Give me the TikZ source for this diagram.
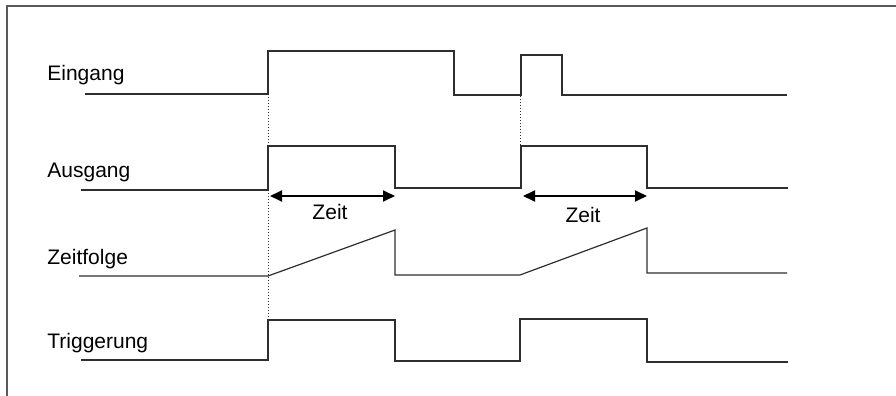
\documentclass[tikz,border=0pt]{standalone}
\usepackage{fontspec}
\setmainfont{Liberation Sans}
\usetikzlibrary{arrows.meta}
\definecolor{signal}{HTML}{2E2E2E}
\definecolor{frameline}{HTML}{5A5A5A}
\tikzset{
  sig/.style={line width=0.6pt, draw=signal},
  guide/.style={densely dotted, line width=0.5pt, draw=signal},
  spanarr/.style={{Triangle[length=6pt,width=5.5pt]}-{Triangle[length=6pt,width=5.5pt]},
    line width=0.9pt, draw=black},
  lab/.style={anchor=base west, inner sep=0pt, font=\fontsize{10.5}{12}\selectfont},
  zeitlab/.style={lab, anchor=base}
}
\begin{document}
\begin{tikzpicture}[x=0.5pt,y=-0.5pt]
  \useasboundingbox (0,0) rectangle (896,396);
  \draw[frameline, line width=0.6pt] (7,396) -- (7,6) -- (896,6);
  % signal names
  \foreach \n/\y/\t in {ein/80/Eingang, aus/177/Ausgang, zf/264/Zeitfolge, trg/348/Triggerung}
    \node[lab] (\n) at (47,\y) {\t};
  % guides
  \draw[guide] (268,94) -- (268,360);
  \draw[guide] (520,96) -- (520,160);
  % Eingang
  \draw[sig] (85,94) -- (268,94) -- (268,51) -- (454,51) -- (454,95) -- (521,95)
    -- (521,55) -- (562,55) -- (562,95) -- (787,95);
  % Ausgang
  \draw[sig] (81,190) -- (268,190) -- (268,146) -- (395,146) -- (395,188) -- (521,188)
    -- (521,146) -- (647,146) -- (647,188) -- (788,188);
  % Zeitfolge
  \draw[sig] (79,276) -- (268,276) -- (395,230) -- (395,275) -- (520,275)
    -- (647,228) -- (647,273) -- (787,273);
  % Triggerung
  \draw[sig] (81,360) -- (268,360) -- (268,320) -- (395,320) -- (395,361) -- (520,361)
    -- (520,319) -- (647,319) -- (647,362) -- (788,362);
  % Zeit
  \coordinate (z1a) at (270,196);
  \coordinate (z1b) at (395,196);
  \coordinate (z2a) at (523,196);
  \coordinate (z2b) at (647,196);
  \draw[spanarr] (z1a) -- (z1b);
  \draw[spanarr] (z2a) -- (z2b);
  \node[zeitlab] (zeit1) at (330,219) {Zeit};
  \node[zeitlab] (zeit2) at (583,222) {Zeit};
\end{tikzpicture}
\end{document}
